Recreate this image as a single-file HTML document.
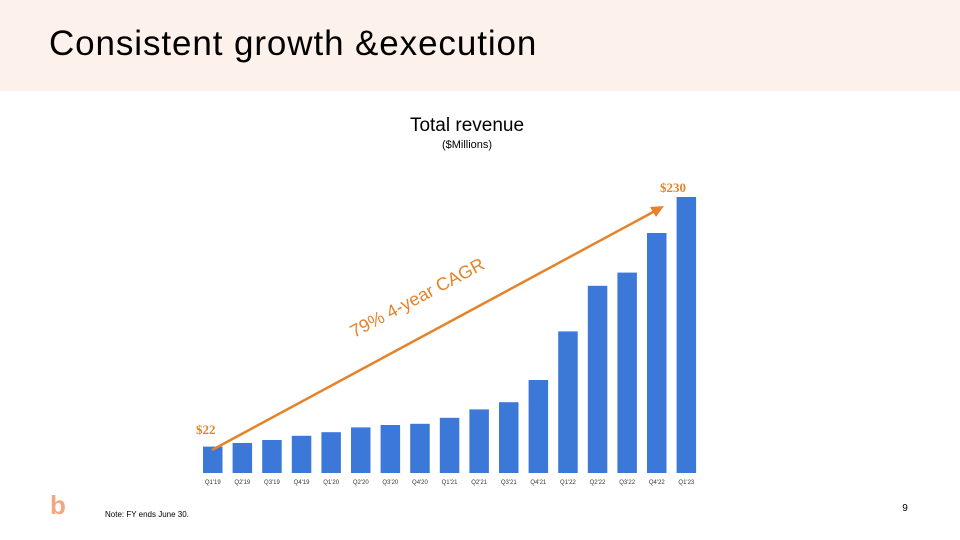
<!DOCTYPE html>
<html><head><meta charset="utf-8"><style>
body{margin:0;width:960px;height:540px;background:#fff;font-family:"Liberation Sans",sans-serif;overflow:hidden;position:relative}
.hdr{position:absolute;left:0;top:0;width:960px;height:91px;background:#fdf1ec}
.ttl{position:absolute;left:49px;top:24px;font-size:35px;color:#000;letter-spacing:0.9px}
</style></head><body>
<div class="hdr"></div>
<div class="ttl">Consistent growth &amp;execution</div>
<svg width="960" height="540" style="position:absolute;left:0;top:0" id="chart">
<text x="467" y="131" font-size="19" text-anchor="middle">Total revenue</text>
<text x="467" y="148" font-size="11" text-anchor="middle">($Millions)</text>
<g id="bars"></g>
<line x1="212" y1="450" x2="655" y2="211" stroke="#e5832b" stroke-width="2.5"/>
<polygon points="664,206 650,207 656,217" fill="#e5832b"/>
<text x="420" y="303" font-size="18" fill="#e5832b" text-anchor="middle" transform="rotate(-28 420 303)">79% 4-year CAGR</text>
<text x="196" y="434" font-size="13" font-weight="bold" fill="#e5832b" font-family="Liberation Serif, serif">$22</text>
<text x="660" y="192" font-size="13" font-weight="bold" fill="#e5832b" font-family="Liberation Serif, serif">$230</text>
<text x="50" y="514" font-size="26" font-weight="bold" fill="#f4a77f">b</text>
<text x="105" y="517" font-size="8">Note:  FY ends June 30.</text>
<text x="905" y="511" font-size="10" text-anchor="middle">9</text>
</svg>
<script>
const categories=["Q1'19","Q2'19","Q3'19","Q4'19","Q1'20","Q2'20","Q3'20","Q4'20","Q1'21","Q2'21","Q3'21","Q4'21","Q1'22","Q2'22","Q3'22","Q4'22","Q1'23"];
const revenue=[22,25,27.5,31,34,38,40,41,46,53,59,77.5,118,156,167,200,230];
const base=473, scale=(473-197)/230, x0=203, pitch=29.6, bw=19.5;
const yS=v=>base-v*scale, xS=i=>x0+i*pitch;
const g=document.getElementById('bars');
const ns='http://www.w3.org/2000/svg';
revenue.forEach((v,i)=>{
 const r=document.createElementNS(ns,'rect');
 r.setAttribute('x',xS(i));r.setAttribute('y',yS(v));r.setAttribute('width',bw);r.setAttribute('height',base-yS(v));r.setAttribute('fill','#3c78d8');
 
 
 g.appendChild(r);
 const t=document.createElementNS(ns,'text');
 t.setAttribute('x',xS(i)+bw/2);t.setAttribute('y',484);t.setAttribute('font-size','6');t.setAttribute('text-anchor','middle');t.setAttribute('fill','#333');
 t.textContent=categories[i];
 
 
 g.appendChild(t);
});
</script>
</body></html>
